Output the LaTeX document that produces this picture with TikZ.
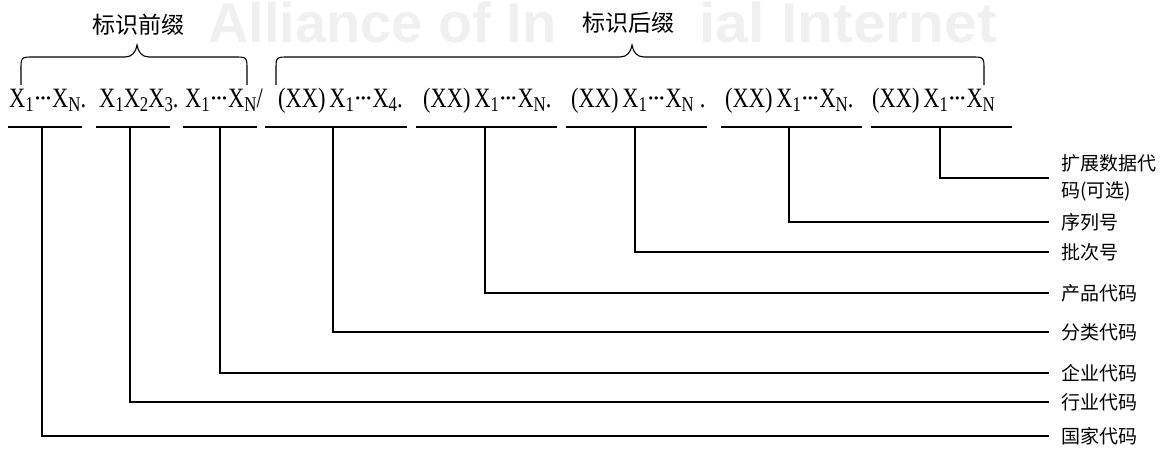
\documentclass[tikz,border=0pt]{standalone}
\usepackage{fontspec}
\setmainfont{Liberation Serif}
\newfontfamily\xf[FakeStretch=0.8]{Liberation Serif}
\newfontfamily\bulfont{DejaVu Sans}
\newfontfamily\cjk{Noto Sans CJK SC}
\newfontfamily\wmfont{Liberation Sans}
\newfontfamily\wmfontw[FakeStretch=1.05]{Liberation Sans}
\newcommand{\sbs}[1]{\raisebox{-4pt}{\fontsize{21}{21}\selectfont #1}}
\newcommand{\dts}{\kern0.5pt\raisebox{5pt}{\bulfont\fontsize{11}{11}\selectfont •\kern-1pt•\kern-1pt•}\kern0.5pt}
\begin{document}
\begin{tikzpicture}[x=1pt,y=-1pt,
  seg/.style={anchor=base west, inner sep=0pt, font=\xf\fontsize{28}{28}\selectfont},
  lab/.style={anchor=west, inner xsep=12pt, inner ysep=0pt, align=left, font=\cjk\fontsize{19}{27}\selectfont},
  toplab/.style={inner sep=0pt, font=\cjk\fontsize{23}{23}\selectfont},
  wmark/.style={inner sep=0pt, text=black!6},
  ln/.style={line width=1.1pt, black},
  brc/.style={line width=1.1pt, black}]
\useasboundingbox (0,0) rectangle (1170,449);
% watermark (partly hidden in the original)
\node[wmark, anchor=base west, font=\wmfont\bfseries\fontsize{56}{56}\selectfont] (wm1) at (208,43) {Alliance of In};
\node[wmark, anchor=base east, font=\wmfontw\bfseries\fontsize{56}{56}\selectfont] (wm2) at (997,43) {ial Internet};
% top labels
\node[toplab] (pre) at (138.5,25) {标识前缀};
\node[toplab] (suf) at (628.5,23) {标识后缀};
% braces
\draw[brc] (21,85) -- (21,70) .. controls (21,57) .. (34,57) -- (125,57)
  .. controls (132,57) and (136,52) .. (137,45) .. controls (138,52) and (142,57) .. (149,57)
  -- (234,57) .. controls (247,57) .. (247,70) -- (247,85);
\draw[brc] (276,85) -- (276,70) .. controls (276,57) .. (289,57) -- (620,57)
  .. controls (627,57) and (631,52) .. (632,45) .. controls (633,52) and (637,57) .. (644,57)
  -- (971,57) .. controls (984,57) .. (984,70) -- (984,85);
% code segments
\node[seg] (s1) at (9,108) {X\sbs{1}\dts X\sbs{N}.};
\node[seg] (s2) at (99,108) {X\sbs{1}X\sbs{2}X\sbs{3}.};
\node[seg] (s3) at (185,108) {X\sbs{1}\dts X\sbs{N}/};
\node[seg] (s4) at (278,108) {(XX)\kern4pt X\sbs{1}\dts X\sbs{4}.};
\node[seg] (s5) at (423,108) {(XX)\kern4pt X\sbs{1}\dts X\sbs{N}.};
\node[seg] (s6) at (571,108) {(XX)\kern4pt X\sbs{1}\dts X\sbs{N}\kern6pt.};
\node[seg] (s7) at (725,108) {(XX)\kern4pt X\sbs{1}\dts X\sbs{N}.};
\node[seg] (s8) at (872,108) {(XX)\kern4pt X\sbs{1}\dts X\sbs{N}};
% underlines
\draw[ln] (8,127) -- (82,127);
\draw[ln] (96,127) -- (170,127);
\draw[ln] (183,127) -- (257,127);
\draw[ln] (265,127) -- (407,127);
\draw[ln] (416,127) -- (557,127);
\draw[ln] (566,127) -- (707,127);
\draw[ln] (721,127) -- (862,127);
\draw[ln] (871,127) -- (1012,127);
% tick coordinates
\coordinate (t1) at (42,127);
\coordinate (t2) at (130,127);
\coordinate (t3) at (220,127);
\coordinate (t4) at (333,127);
\coordinate (t5) at (485,127);
\coordinate (t6) at (635,127);
\coordinate (t7) at (789,127);
\coordinate (t8) at (940,127);
% labels
\node[lab] (l8) at (1049,178) {扩展数据代\\码(可选)};
\node[lab] (l7) at (1049,222) {序列号};
\node[lab] (l6) at (1049,252) {批次号};
\node[lab] (l5) at (1049,293) {产品代码};
\node[lab] (l4) at (1049,332) {分类代码};
\node[lab] (l3) at (1049,373) {企业代码};
\node[lab] (l2) at (1049,402) {行业代码};
\node[lab] (l1) at (1049,436) {国家代码};
% connectors
\draw[ln] (t1) |- (l1.west);
\draw[ln] (t2) |- (l2.west);
\draw[ln] (t3) |- (l3.west);
\draw[ln] (t4) |- (l4.west);
\draw[ln] (t5) |- (l5.west);
\draw[ln] (t6) |- (l6.west);
\draw[ln] (t7) |- (l7.west);
\draw[ln] (t8) |- (l8.west);
\end{tikzpicture}
\end{document}
